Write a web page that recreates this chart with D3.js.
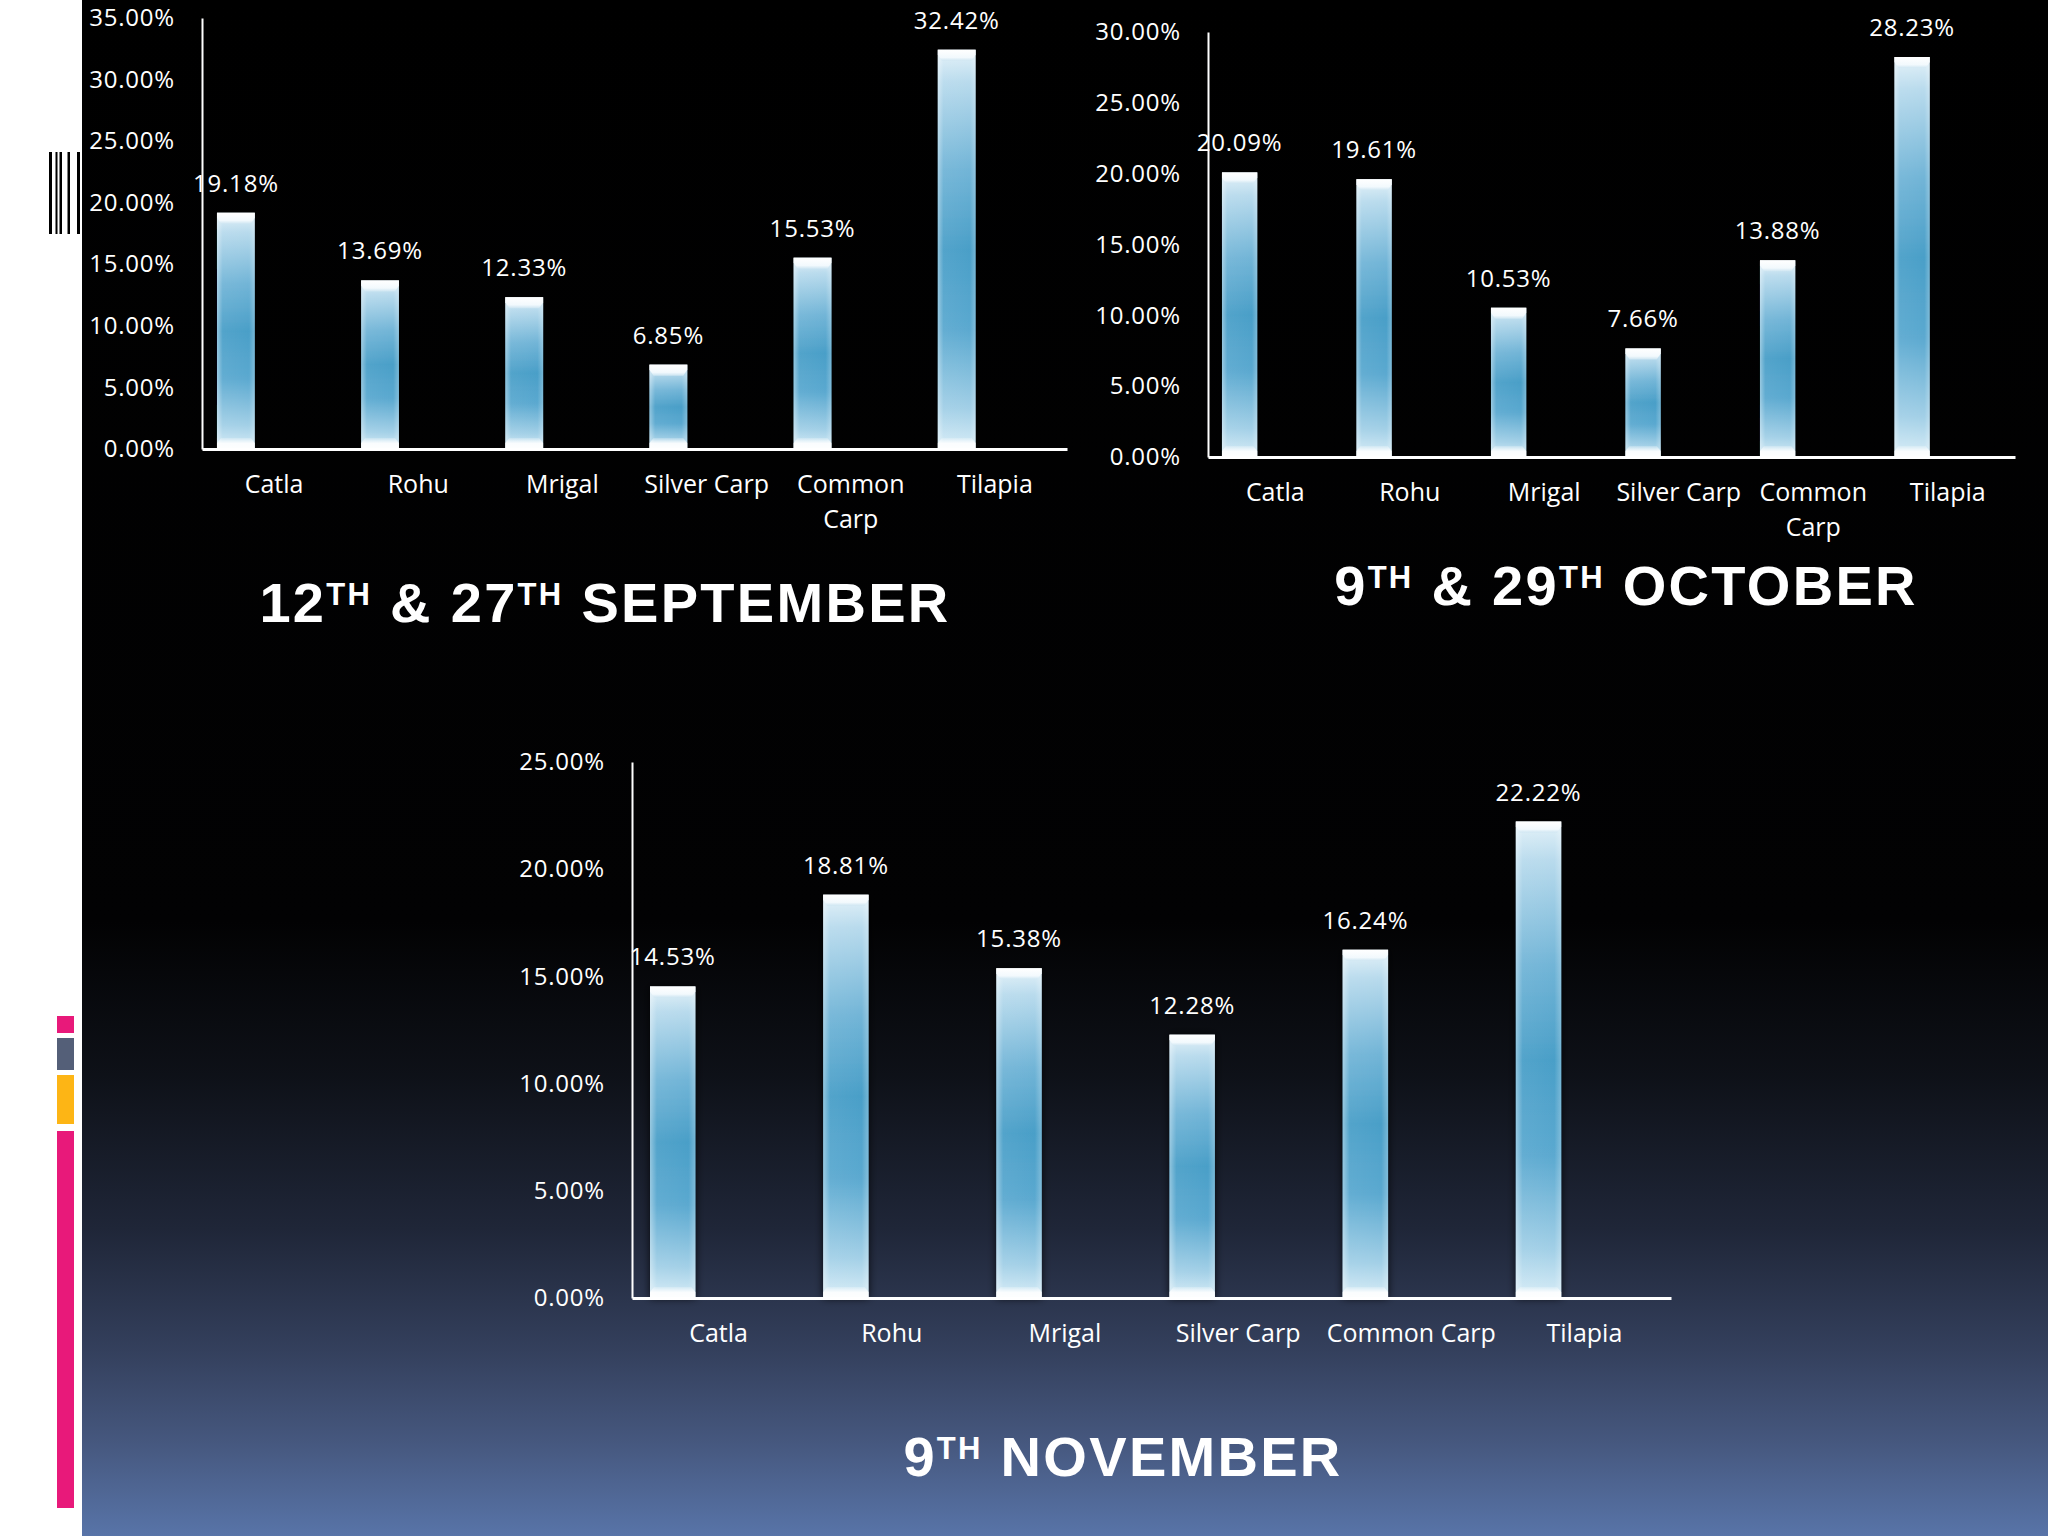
<!DOCTYPE html>
<html><head><meta charset="utf-8">
<script src="https://cdn.jsdelivr.net/npm/d3@7"></script>
<style>html,body{margin:0;padding:0;background:#fff;} svg{display:block}</style>
</head><body>
<svg id="c" width="2048" height="1536"></svg>
<script>
// ---- data ----
const categories = ["Catla", "Rohu", "Mrigal", "Silver Carp", "Common Carp", "Tilapia"];
const septValues = [19.18, 13.69, 12.33, 6.85, 15.53, 32.42];
const octValues  = [20.09, 19.61, 10.53, 7.66, 13.88, 28.23];
const novValues  = [14.53, 18.81, 15.38, 12.28, 16.24, 22.22];
const septTicks = [0, 5, 10, 15, 20, 25, 30, 35];
const octTicks  = [0, 5, 10, 15, 20, 25, 30];
const novTicks  = [0, 5, 10, 15, 20, 25];
const septTitle = [["12", false], ["TH", true], [" & 27", false], ["TH", true], [" SEPTEMBER", false]];
const octTitle  = [["9", false], ["TH", true], [" & 29", false], ["TH", true], [" OCTOBER", false]];
const novTitle  = [["9", false], ["TH", true], [" NOVEMBER", false]];

const svg = d3.select("#c");
const defs = svg.append("defs");

// background panel gradient
const bg = defs.append("linearGradient").attr("id", "bgGrad").attr("x1", 0).attr("y1", 0).attr("x2", 0).attr("y2", 1);
[[0, "#000000"], [0.6, "#020203"], [0.7, "#0e1118"], [0.8, "#1f2638"], [0.88, "#34405d"], [0.94, "#46587f"], [1, "#5874a8"]]
  .forEach(([o, c]) => bg.append("stop").attr("offset", o).attr("stop-color", c));

const bgV = defs.append("linearGradient").attr("id", "barGrad").attr("x1", 0).attr("y1", 0).attr("x2", 0).attr("y2", 1);
[[0, "#e4f2f9"], [0.08, "#b9dbed"], [0.3, "#72b5d7"], [0.5, "#4a9fc8"], [0.7, "#5ba9d0"], [0.9, "#a3d0e7"], [1, "#d8edf7"]]
  .forEach(([o, c]) => bgV.append("stop").attr("offset", o).attr("stop-color", c));
const side = defs.append("linearGradient").attr("id", "sideGrad").attr("x1", 0).attr("y1", 0).attr("x2", 1).attr("y2", 0);
[[0, "#ffffff", 0.4], [0.15, "#ffffff", 0.05], [0.85, "#ffffff", 0], [1, "#ffffff", 0.25]]
  .forEach(([o, c, a]) => side.append("stop").attr("offset", o).attr("stop-color", c).attr("stop-opacity", a));
const cap = defs.append("linearGradient").attr("id", "capGrad").attr("x1", 0).attr("y1", 0).attr("x2", 0).attr("y2", 1);
[[0, "#ffffff", 1], [0.7, "#f2f9fd", 1], [1, "#cfe6f2", 0.9]]
  .forEach(([o, c, a]) => cap.append("stop").attr("offset", o).attr("stop-color", c).attr("stop-opacity", a));
const bot = defs.append("linearGradient").attr("id", "botGrad").attr("x1", 0).attr("y1", 0).attr("x2", 0).attr("y2", 1);
[[0, "#ffffff", 0.2], [0.5, "#ffffff", 0.9], [1, "#ffffff", 0.95]]
  .forEach(([o, c, a]) => bot.append("stop").attr("offset", o).attr("stop-color", c).attr("stop-opacity", a));
const sh = defs.append("filter").attr("id", "shadow").attr("x", "-50%").attr("y", "-10%").attr("width", "200%").attr("height", "120%");
sh.append("feDropShadow").attr("dx", 0).attr("dy", 0).attr("stdDeviation", 4).attr("flood-color", "#000").attr("flood-opacity", 0.8);

// page background
svg.append("rect").attr("x", 0).attr("y", 0).attr("width", 2048).attr("height", 1536).attr("fill", "#ffffff");
svg.append("rect").attr("x", 82).attr("y", 0).attr("width", 1966).attr("height", 1536).attr("fill", "url(#bgGrad)");

// decorative barcode + colour strips
[[49, 3], [55.5, 2], [59.5, 2.5], [67.5, 2.5], [77, 3]].forEach(([x, w]) =>
  svg.append("rect").attr("x", x).attr("y", 152).attr("width", w).attr("height", 82).attr("fill", "#000"));
[[1016, 17, "#e8197a"], [1038, 32, "#545f78"], [1075, 49, "#fdb515"], [1131, 377, "#e8197a"]].forEach(([y, h, c]) =>
  svg.append("rect").attr("x", 57).attr("y", y).attr("width", 17).attr("height", h).attr("fill", c));

const panels = [
  {values: septValues, ticks: septTicks, x0: 202, x1: 1067, top: 18, base: 449, title: septTitle, tx: 605, ty: 622},
  {values: octValues, ticks: octTicks, x0: 1208, x1: 2015, top: 32, base: 457, title: octTitle, tx: 1626, ty: 605},
  {values: novValues, ticks: novTicks, x0: 632, x1: 1671, top: 762, base: 1298, title: novTitle, tx: 1123, ty: 1476}
];

const numFont = "'Open Sans', sans-serif";

panels.forEach(p => {
  const g = svg.append("g");
  const x = d3.scaleBand().domain(categories).range([p.x0, p.x1]).paddingInner(0).paddingOuter(0);
  const y = d3.scaleLinear().domain([0, d3.max(p.ticks)]).range([p.base, p.top]);
  const bw = x.bandwidth();
  const barX = c => x(c) + bw * 0.104;
  const barW = bw * 0.262;

  // bars
  const bars = g.selectAll("g.bar").data(categories.map((c, i) => ({c, v: p.values[i]}))).join("g").attr("class", "bar");
  bars.append("rect").attr("x", d => barX(d.c)).attr("y", d => y(d.v)).attr("width", barW)
    .attr("height", d => y(0) - y(d.v)).attr("fill", "url(#barGrad)").attr("filter", "url(#shadow)");
  bars.append("rect").attr("x", d => barX(d.c)).attr("y", d => y(d.v)).attr("width", barW)
    .attr("height", d => y(0) - y(d.v)).attr("fill", "url(#sideGrad)");
  bars.append("path").attr("d", d => {
    const x0 = barX(d.c), x1 = x0 + barW, t = y(d.v);
    return `M${x0},${t}H${x1}V${t + 5}L${x1 - 4},${t + 11}H${x0 + 4}L${x0},${t + 5}Z`;
  }).attr("fill", "url(#capGrad)");
  bars.append("path").attr("d", d => {
    const x0 = barX(d.c), x1 = x0 + barW, b = y(0);
    return `M${x0},${b}V${b - 6}L${x0 + 4},${b - 11}H${x1 - 4}L${x1},${b - 6}V${b}Z`;
  }).attr("fill", "url(#botGrad)");

  // value labels
  g.selectAll("text.val").data(categories.map((c, i) => ({c, v: p.values[i]}))).join("text").attr("class", "val")
    .attr("x", d => barX(d.c) + barW / 2).attr("y", d => y(d.v) - 21)
    .attr("text-anchor", "middle").attr("fill", "#fff").attr("font-family", numFont).attr("font-size", 24)
    .attr("letter-spacing", 0.8)
    .text(d => d.v.toFixed(2) + "%");

  // y axis
  const ya = g.append("g").attr("transform", `translate(${p.x0},0)`)
    .call(d3.axisLeft(y).tickValues(p.ticks).tickFormat(d => d.toFixed(2) + "%").tickSize(0).tickPadding(27));
  ya.select(".domain").attr("stroke", "#fff").attr("stroke-width", 2);
  ya.selectAll("text").attr("fill", "#fff").attr("font-family", numFont).attr("font-size", 24).attr("letter-spacing", 0.8);

  // x axis
  const xa = g.append("g").attr("transform", `translate(0,${p.base})`)
    .call(d3.axisBottom(x).tickSize(0).tickPadding(0));
  xa.select(".domain").attr("stroke", "#fff").attr("stroke-width", 3);
  xa.selectAll("text").attr("fill", "#fff").attr("font-family", numFont).attr("font-size", 25)
    .attr("y", 44).attr("dy", 0)
    .each(function(d) {
      const t = d3.select(this);
      if (this.getComputedTextLength() > bw - 2 && d.indexOf(" ") > 0) {
        const parts = d.split(" ");
        t.text(null);
        parts.forEach((w, i) => t.append("tspan").attr("x", 0).attr("dy", i === 0 ? 0 : 35).text(w));
      }
    });

  // title
  const tt = svg.append("text").attr("x", p.tx).attr("y", p.ty).attr("text-anchor", "middle")
    .attr("fill", "#fff").attr("font-family", "'Liberation Sans', Arial, sans-serif").attr("font-weight", "bold")
    .attr("font-size", 56).attr("letter-spacing", 2.3).style("white-space", "pre");
  let raised = false;
  p.title.forEach(([s, sup]) => {
    const ts = tt.append("tspan").text(s);
    if (sup) { ts.attr("font-size", 31).attr("dy", -17); raised = true; }
    else if (raised) { ts.attr("dy", 17); raised = false; }
  });
});
</script>
</body></html>
